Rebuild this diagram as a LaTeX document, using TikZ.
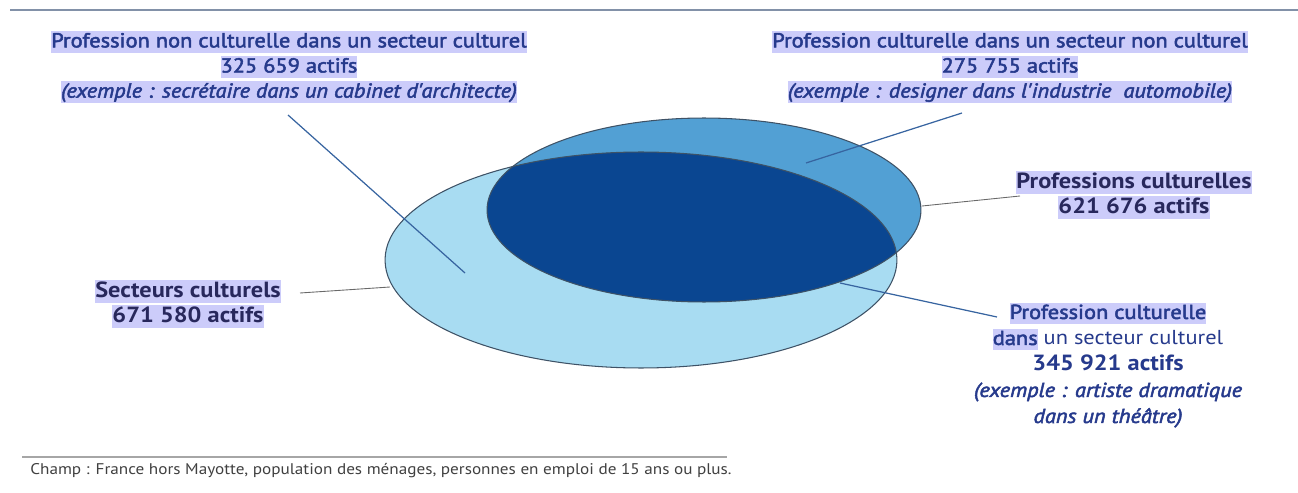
\documentclass[tikz,border=0pt]{standalone}
\usepackage{fontspec}
\setmainfont[FakeStretch=1.11]{PT Sans}
\newfontfamily\medfont{PT Sans}[FakeStretch=1.11, FakeBold=2.5]
\usetikzlibrary{positioning}

\definecolor{hilite}{RGB}{204,204,250}
\definecolor{txtblue}{RGB}{38,58,140}
\definecolor{txtnavy}{RGB}{40,40,92}
\definecolor{lienblue}{RGB}{55,100,160}
\definecolor{liengray}{RGB}{105,105,105}
\definecolor{contour}{RGB}{62,82,102}
\definecolor{secteur}{RGB}{168,220,242}
\definecolor{profession}{RGB}{82,160,212}
\definecolor{croise}{RGB}{10,70,145}
\definecolor{filet}{RGB}{130,145,168}

% highlighted line of text
\newcommand{\hl}[1]{{\fboxsep=0pt\colorbox{hilite}{\rule[-0.27em]{0pt}{1.08em}#1}}}

\begin{document}
\begin{tikzpicture}[x=0.02cm, y=-0.02cm,
    label/.style={align=center, inner sep=0pt, text=txtblue,
      font=\medfont\fontsize{11.5}{14.3}\selectfont},
    total/.style={align=center, inner sep=0pt, text=txtnavy,
      font=\bfseries\fontsize{12.5}{14.3}\selectfont},
    lien/.style={draw=lienblue, line width=0.7pt},
    trait/.style={draw=liengray, line width=0.5pt},
    ens/.style={draw=contour, line width=0.6pt},
  ]
  \useasboundingbox (0,0) rectangle (1298,493);
  \draw[filet, line width=1.2pt] (10,10) -- (1298,10);

  % the two sets and their intersection
  \coordinate (csect) at (641,260);
  \coordinate (cprof) at (704,210);
  \fill[secteur] (csect) ellipse [x radius=5.12cm, y radius=2.16cm];
  \fill[profession] (cprof) ellipse [x radius=4.34cm, y radius=1.84cm];
  \begin{scope}
    \clip (csect) ellipse [x radius=5.12cm, y radius=2.16cm];
    \fill[croise] (cprof) ellipse [x radius=4.34cm, y radius=1.84cm];
  \end{scope}
  \path[ens] (csect) ellipse [x radius=5.12cm, y radius=2.16cm];
  \path[ens] (cprof) ellipse [x radius=4.34cm, y radius=1.84cm];

  % labels
  \node[label] (nonprof) at (289,67)
    {\hl{Profession non culturelle dans un secteur culturel}\\
     \hl{325~659 actifs}\\
     \hl{\itshape (exemple : secrétaire dans un cabinet d'architecte)}};
  \node[label] (nonsect) at (1010,67)
    {\hl{Profession culturelle dans un secteur non culturel}\\
     \hl{275~755 actifs}\\
     \hl{\itshape (exemple : designer dans l'industrie\ \ automobile)}};
  \node[total] (profs) at (1134,195)
    {\hl{Professions culturelles}\\ \hl{621~676 actifs}};
  \node[total] (sects) at (188,304)
    {\hl{Secteurs culturels}\\ \hl{671~580 actifs}};
  \node[label, font=\fontsize{11.5}{14.8}\selectfont] (both) at (1108,365)
    {\hl{\medfont Profession culturelle}\\
     \hl{\medfont dans} un secteur culturel\\
     {\bfseries\fontsize{12.5}{14.8}\selectfont 345~921 actifs}\\
     \medfont\itshape (exemple : artiste dramatique\\
     \medfont\itshape dans un théâtre)};

  % connectors
  \coordinate (a0) at (288,115);  \coordinate (a1) at (465,273);
  \coordinate (b0) at (962,113);  \coordinate (b1) at (806,163);
  \coordinate (c0) at (922,206);  \coordinate (c1) at (1020,196);
  \coordinate (d0) at (300,293);  \coordinate (d1) at (390,287);
  \coordinate (e0) at (840,283);  \coordinate (e1) at (997,317);
  \draw[lien] (a0) -- (a1);
  \draw[lien] (b0) -- (b1);
  \draw[trait] (c0) -- (c1);
  \draw[trait] (d0) -- (d1);
  \draw[lien] (e0) -- (e1);

  % footer
  \draw[gray!70, line width=0.6pt] (22,457) -- (727,457);
  \node[anchor=west, inner sep=0pt, text=black!75,
    font=\fontsize{8.8}{11}\selectfont] (champ) at (30,471)
    {Champ : France hors Mayotte, population des ménages, personnes en emploi de 15 ans ou plus.};
\end{tikzpicture}
\end{document}
